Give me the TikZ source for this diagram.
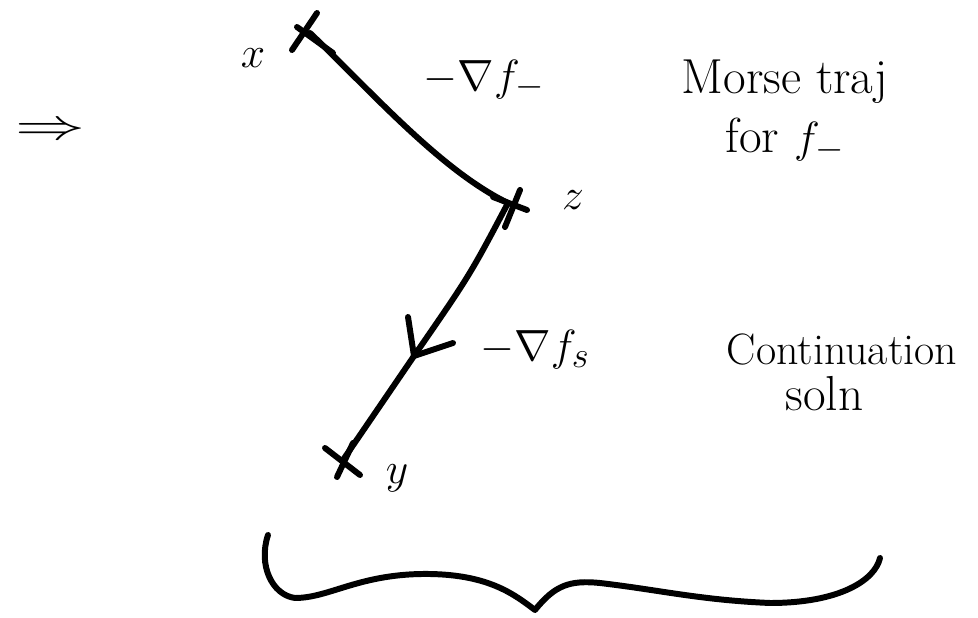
\documentclass[tikz,border=0pt]{standalone}
\usetikzlibrary{positioning}
\tikzset{
  lbl/.style={font=\fontsize{30}{36}\selectfont},
  note/.style={font=\fontsize{28}{34}\selectfont}
}
\begin{document}
\begin{tikzpicture}[x=0.02cm, y=-0.02cm, line width=3.4pt, line cap=round, line join=round]
  \useasboundingbox (0,0) rectangle (978,618);

  % implies
  \node[font=\fontsize{26}{30}\selectfont, xscale=1.6] (impl) at (50,131) {$\Rightarrow$};

  % points on the trajectory
  \coordinate (X) at (310,33);
  \coordinate (Z) at (508,203);
  \coordinate (A) at (414,356);	% arrow tip
  \coordinate (Y) at (343,460);

  % crosses
  \draw (X) ++(-18,17) -- ++(25,-37);
  \draw (X) ++(-13,-6) -- ++(36,26);
  \draw (Z) ++(-3,24) -- ++(15,-37);
  \draw (Z) ++(-15,-6) -- ++(34,13);
  \draw (Y) ++(-6,17) -- ++(16,-34);
  \draw (Y) ++(-18,-12) -- ++(35,27);

  % Morse trajectory for f_-
  \draw (X) .. controls (370,90) and (440,170) .. (Z);

  % continuation
  \draw (Z) .. controls (470,275) .. (A) -- (Y);
  \draw (A) ++(-6,-39) -- (A) -- ++(39,-13);

  % labels
  \node[lbl] (xl) at (253,58) {$x$};
  \node[lbl] (zl) at (573,200) {$z$};
  \node[lbl] (yl) at (397,478) {$y$};
  \node[lbl] (gm) at (484,80) {$-\nabla f_-$};
  \node[lbl] (gs) at (535,350) {$-\nabla f_s$};

  \node[note] (morse) at (785,82) {Morse traj};
  \node[note, below=-2pt of morse] (for) {for $f_-$};
  \node[note, font=\fontsize{25}{30}\selectfont] (cont) at (842,350) {Continuation};
  \node[note, below=-4pt of cont, xshift=-10pt] (soln) {soln};

  % brace
  \draw (268,535) .. controls (258,565) and (272,595) .. (295,598)
    .. controls (330,598) and (360,573) .. (430,574)
    .. controls (490,575) and (515,595) .. (535,610)
    .. controls (555,585) and (570,580) .. (600,583)
    .. controls (660,590) and (700,600) .. (770,603)
    .. controls (840,603) and (875,580) .. (880,558);

\end{tikzpicture}
\end{document}
